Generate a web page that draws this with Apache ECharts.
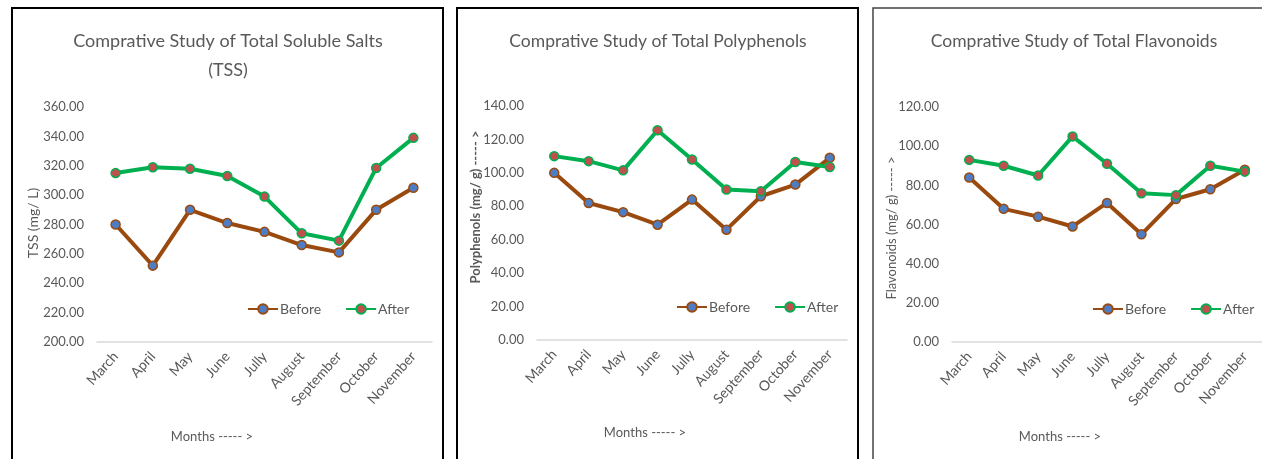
<!DOCTYPE html>
<html>
<head>
<meta charset="utf-8">
<script src="https://cdn.jsdelivr.net/npm/echarts@6/dist/echarts.min.js"></script>
<style>
html,body{margin:0;padding:0;background:#fff;}
#c{width:1262px;height:459px;}
</style>
</head>
<body>
<div id="c"></div>
<script>
var months = ['March','April','May','June','Jully','August','September','October','November'];
var tssBefore = [280, 252, 290, 281, 275, 266, 261, 290, 305];
var tssAfter = [315, 319, 318, 313, 299, 274, 269, 318.5, 339];
var polyBefore = [100, 82, 76.5, 69, 84, 66, 86, 93, 109];
var polyAfter = [110, 107, 101.5, 125.5, 108, 90, 89, 106.5, 103.5];
var flavBefore = [84, 68, 64, 59, 71, 55, 73, 78, 88];
var flavAfter = [93, 90, 85, 105, 91, 76, 75, 90, 87];
var titles = ['Comprative Study of Total Soluble Salts\n(TSS)', 'Comprative Study of Total Polyphenols', 'Comprative Study of Total Flavonoids'];
var yNames = ['TSS (mg/ L)', 'Polyphenols (mg/ g) ----- >', 'Flavonoids (mg/ g) ----- >'];
var xName = 'Months ----- >';
var legendNames = ['Before', 'After'];

var FONT = 'Lato';
var TXT = '#595959';
var BROWN = '#9A4A0E';
var GREEN = '#00B050';

var grids = [
  {left: 97, top: 107, width: 335, height: 235},
  {left: 537, top: 106, width: 310, height: 234},
  {left: 952, top: 107, width: 313, height: 235}
];
var yRanges = [[200, 360], [0, 140], [0, 120]];

function xAxis(i) {
  return {
    type: 'category', gridIndex: i, data: months, boundaryGap: true,
    axisLine: {lineStyle: {color: '#D9D9D9', width: 1.5}},
    axisTick: {show: false},
    axisLabel: {interval: 0, rotate: 48, color: TXT, fontFamily: FONT, fontSize: 14, margin: 12}
  };
}
function yAxis(i) {
  return {
    type: 'value', gridIndex: i, min: yRanges[i][0], max: yRanges[i][1], interval: 20,
    splitLine: {show: false}, axisLine: {show: false}, axisTick: {show: false},
    axisLabel: {color: TXT, fontFamily: FONT, fontSize: 13, margin: 13,
      formatter: function (v) { return v.toFixed(2); }}
  };
}
function series(name, data, i, color, fill) {
  return {
    name: name, type: 'line', xAxisIndex: i, yAxisIndex: i, data: data,
    symbol: 'circle', symbolSize: 9,
    lineStyle: {color: color, width: 4},
    itemStyle: {color: fill, borderColor: color, borderWidth: 1.5},
    emphasis: {disabled: true}
  };
}
function nm(n, i) { return n + (i ? '\u200b'.repeat(i) : ''); }
function legend(i, left, top) {
  return {
    data: legendNames.map(function (n) { return nm(n, i); }),
    left: left, top: top, width: 240, padding: 0, orient: 'horizontal',
    itemWidth: 30, itemHeight: 12, itemGap: 24,
    textStyle: {color: TXT, fontFamily: FONT, fontSize: 14, padding: [0, 0, 0, -3]}
  };
}

var graphic = [
  {type: 'rect', shape: {x: 12, y: 8, width: 431, height: 470}, style: {fill: 'none', stroke: '#000', lineWidth: 2}, z: -1},
  {type: 'rect', shape: {x: 457, y: 8, width: 401, height: 470}, style: {fill: 'none', stroke: '#000', lineWidth: 2}, z: -1},
  {type: 'rect', shape: {x: 873, y: 8, width: 420, height: 470}, style: {fill: 'none', stroke: '#444', lineWidth: 1.5}, z: -1},
  {type: 'text', x: 228, y: 27, style: {text: titles[0], fill: TXT, font: '18px ' + FONT, align: 'center', lineHeight: 29}},
  {type: 'text', x: 658, y: 27, style: {text: titles[1], fill: TXT, font: '17.5px ' + FONT, align: 'center', lineHeight: 29}},
  {type: 'text', x: 1074, y: 27, style: {text: titles[2], fill: TXT, font: '17.5px ' + FONT, align: 'center', lineHeight: 29}},
  {type: 'text', x: 33, y: 223, rotation: Math.PI / 2, style: {text: yNames[0], fill: TXT, font: '14px ' + FONT, align: 'center', verticalAlign: 'middle'}},
  {type: 'text', x: 476, y: 207, rotation: Math.PI / 2, style: {text: yNames[1], fill: TXT, font: 'bold 13px ' + FONT, align: 'center', verticalAlign: 'middle'}},
  {type: 'text', x: 892, y: 228, rotation: Math.PI / 2, style: {text: yNames[2], fill: TXT, font: '13px ' + FONT, align: 'center', verticalAlign: 'middle'}},
  {type: 'text', x: 212, y: 437, style: {text: xName, fill: TXT, font: '13px ' + FONT, align: 'center', verticalAlign: 'middle'}},
  {type: 'text', x: 645, y: 433, style: {text: xName, fill: TXT, font: '13px ' + FONT, align: 'center', verticalAlign: 'middle'}},
  {type: 'text', x: 1060, y: 437, style: {text: xName, fill: TXT, font: '13px ' + FONT, align: 'center', verticalAlign: 'middle'}}
];

var chart = echarts.init(document.getElementById('c'));
chart.setOption({
  animation: false,
  backgroundColor: '#fff',
  grid: grids,
  xAxis: [xAxis(0), xAxis(1), xAxis(2)],
  yAxis: [yAxis(0), yAxis(1), yAxis(2)],
  legend: [legend(0, 247, 302), legend(1, 676, 300), legend(2, 1092, 302)],
  series: [
    series(nm(legendNames[0], 0), tssBefore, 0, BROWN, '#4F7DC4'),
    series(nm(legendNames[1], 0), tssAfter, 0, GREEN, '#C0504D'),
    series(nm(legendNames[0], 1), polyBefore, 1, BROWN, '#4F7DC4'),
    series(nm(legendNames[1], 1), polyAfter, 1, GREEN, '#C0504D'),
    series(nm(legendNames[0], 2), flavBefore, 2, BROWN, '#4F7DC4'),
    series(nm(legendNames[1], 2), flavAfter, 2, GREEN, '#C0504D')
  ],
  graphic: graphic
});
</script>
</body>
</html>
